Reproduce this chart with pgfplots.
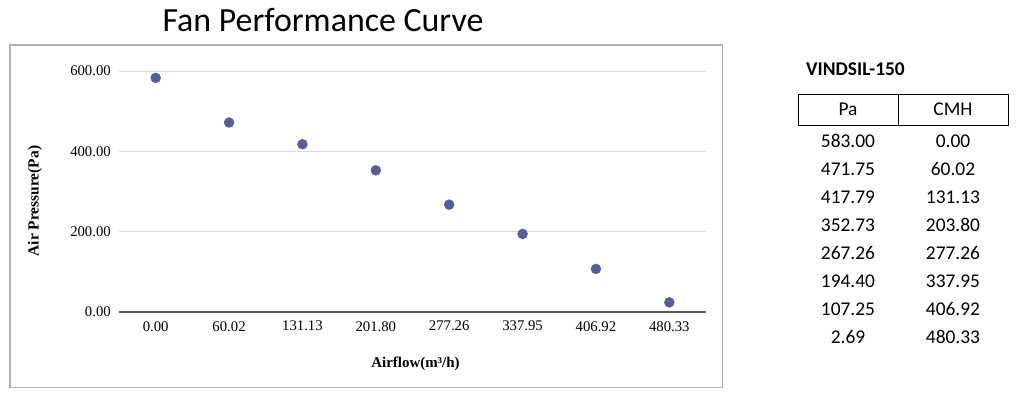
\documentclass[border=0pt]{standalone}
\usepackage{fontspec}
\setmainfont{Liberation Serif}
\newfontfamily\calibri{Carlito}
\usepackage{pgfplots}
\pgfplotsset{compat=1.18}
\definecolor{dotblue}{RGB}{84,94,152}
\definecolor{framegray}{RGB}{176,176,176}
\definecolor{gridgray}{RGB}{217,217,217}
\definecolor{axisgray}{RGB}{89,89,89}

\begin{document}
\begin{tikzpicture}[x=1bp,y=1bp]
\useasboundingbox (0,0) rectangle (1024,402);
% chart frame
\draw[framegray, line width=1.5bp] (10,14.5) rectangle (722.5,357);
% title
\node[anchor=base, font=\calibri\fontsize{34}{40}\selectfont] at (323,371) {Fan Performance Curve};

\begin{axis}[
   at={(119bp,90bp)}, anchor=south west,
   scale only axis, width=587bp, height=241bp,
   xmin=-0.5, xmax=7.5, ymin=0, ymax=600,
   xtick={0,...,7},
   xticklabels={0.00,60.02,131.13,201.80,277.26,337.95,406.92,480.33},
   ytick={0,200,400,600},
   yticklabel={\pgfmathprintnumber[fixed,fixed zerofill,precision=2]{\tick}},
   /pgf/number format/assume math mode=true,
   major tick length=0pt,
   ymajorgrids,
   major grid style={draw=gridgray, line width=1bp},
   axis x line*=bottom, axis y line*=left,
   x axis line style={-, draw=axisgray, line width=1.3bp},
   y axis line style={draw=none},
   tick label style={font=\fontsize{14.8}{17}\selectfont},
   yticklabel style={anchor=east, inner sep=0pt, xshift=-8bp},
   xticklabel style={anchor=north, inner sep=0pt, yshift=-9bp},
   xlabel={Airflow(m³/h)},
   ylabel={Air Pressure(Pa)},
   every axis x label/.style={at={(rel axis cs:0.5,0)}, anchor=center, yshift=-52bp, xshift=3bp,
      font=\bfseries\fontsize{15}{18}\selectfont},
   every axis y label/.style={at={(rel axis cs:0,0.5)}, anchor=center, rotate=90, yshift=84bp, xshift=-9.5bp,
      font=\bfseries\fontsize{15.5}{18}\selectfont},
   clip=false,
]
\addplot[only marks, mark=*, mark size=5bp, mark options={fill=dotblue, draw=dotblue}] coordinates {
(0, 583.00)
(1, 471.75)
(2, 417.79)
(3, 352.73)
(4, 267.26)
(5, 194.40)
(6, 107.25)
(7, 24)
};
\end{axis}

% data table
\node[anchor=base west, inner sep=0pt, font=\calibri\bfseries\fontsize{19.5}{23}\selectfont] at (806,327) {VINDSIL-150};
\draw[black, line width=1bp] (798,277) rectangle (1008,308);
\draw[black, line width=1bp] (898,277) -- (898,308);
\begin{scope}[every node/.style={anchor=base, font=\calibri\fontsize{19.5}{23}\selectfont}]
\node at (848,287) {Pa};
\node at (953,287) {CMH};
\foreach \pa/\cmh [count=\i from 0] in {583.00/0.00, 471.75/60.02, 417.79/131.13, 352.73/203.80, 267.26/277.26, 194.40/337.95, 107.25/406.92, 2.69/480.33} {
  \node at (848,254.3-28*\i) {\pa};
  \node at (953,254.3-28*\i) {\cmh};
}
\end{scope}
\end{tikzpicture}
\end{document}
